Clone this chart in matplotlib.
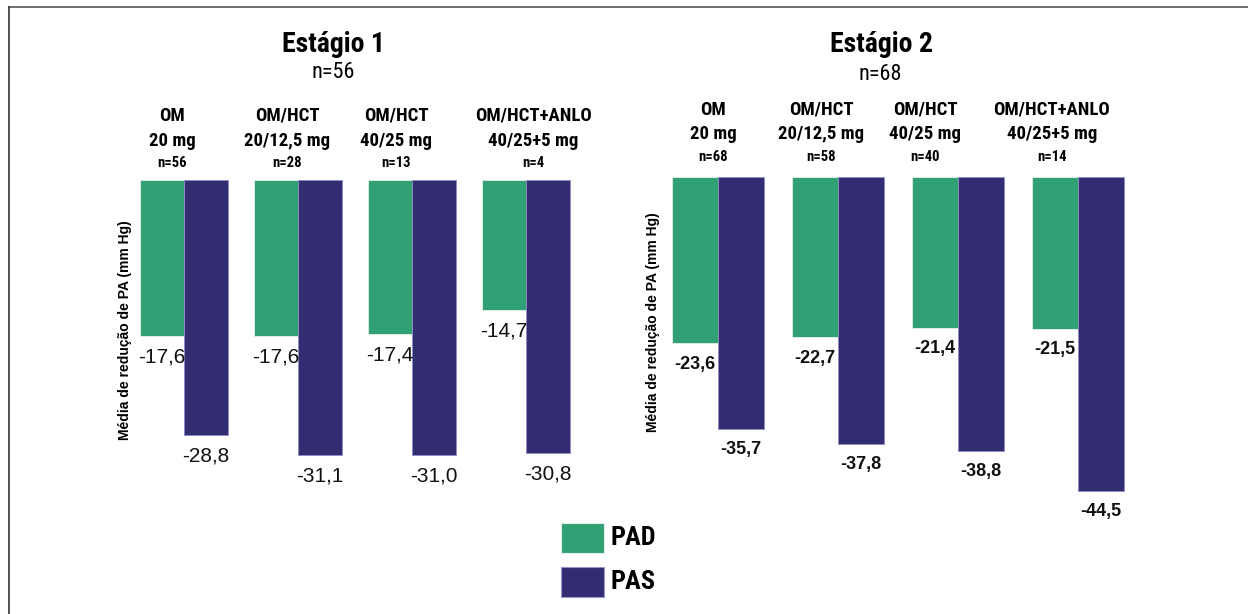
import matplotlib
matplotlib.use("Agg")
import matplotlib.pyplot as plt
from matplotlib import font_manager
from matplotlib.lines import Line2D
from matplotlib.patches import Rectangle
import numpy as np

# ---- data ----
stage_titles = ["Estágio 1", "Estágio 2"]
stage_n = ["n=56", "n=68"]
groups = ["OM", "OM/HCT", "OM/HCT", "OM/HCT+ANLO"]
doses = ["20 mg", "20/12,5 mg", "40/25 mg", "40/25+5 mg"]
n_stage1 = ["n=56", "n=28", "n=13", "n=4"]
n_stage2 = ["n=68", "n=58", "n=40", "n=14"]
pad_stage1 = [-17.6, -17.6, -17.4, -14.7]
pas_stage1 = [-28.8, -31.1, -31.0, -30.8]
pad_stage2 = [-23.6, -22.7, -21.4, -21.5]
pas_stage2 = [-35.7, -37.8, -38.8, -44.5]
series_names = ["PAD", "PAS"]

GREEN = "#31a175"
PURPLE = "#322c70"


def pick(candidates, fallback):
    for name in candidates:
        try:
            font_manager.findfont(font_manager.FontProperties(family=name),
                                  fallback_to_default=False)
            return name
        except Exception:
            continue
    return fallback


NARROW = pick(["Roboto Condensed", "PT Sans Narrow", "Liberation Sans Narrow"],
              "Liberation Sans")
REG = "Liberation Sans"

W, H = 1248, 614
fig = plt.figure(figsize=(W / 100, H / 100), dpi=100)
fig.patch.set_facecolor("white")


def fx(x):
    return x / W


def fy(y):
    return 1 - y / H


def add_axes_px(x0, y0, x1, y1):
    return fig.add_axes([fx(x0), fy(y1), fx(x1) - fx(x0), fy(y0) - fy(y1)])


# frame lines along the top and left edges
fig.add_artist(Line2D([fx(9), 1.0], [fy(7), fy(7)], color="#555555", lw=1.2))
fig.add_artist(Line2D([fx(9), fx(9)], [fy(7), 0.0], color="#333333", lw=1.2))

panels = [
    dict(box=(130, 180, 600, 490), ylim=(-35.0, 0), xlim=(-0.474, 3.649),
         width=0.386, pad=pad_stage1, pas=pas_stage1, ns=n_stage1,
         lbl_weight="normal", lbl_size=15, lbl_off=21,
         title_xy=(333, 45), n_xy=(333, 73), cat_y=(116, 141, 163),
         cat_x=(172, 287, 396, 533), ylab_x=125, ylab_y=330),
    dict(box=(660, 177, 1200, 520), ylim=(-48.65, 0), xlim=(-0.483, 4.017),
         width=0.383, pad=pad_stage2, pas=pas_stage2, ns=n_stage2,
         lbl_weight="bold", lbl_size=13, lbl_off=21,
         title_xy=(881, 45), n_xy=(880, 75), cat_y=(110, 134, 157),
         cat_x=(713, 821, 925, 1052), ylab_x=653, ylab_y=322),
]

for si, p in enumerate(panels):
    x0, y0, x1, y1 = p["box"]
    ax = add_axes_px(x0, y0, x1, y1)
    ax.set_xlim(*p["xlim"])
    ax.set_ylim(*p["ylim"])
    ax.axis("off")
    x = np.arange(len(groups))
    w = p["width"]
    b1 = ax.bar(x - w / 2, p["pad"], w, color=GREEN, edgecolor="#e6efe9",
                linewidth=0.6)
    b2 = ax.bar(x + w / 2, p["pas"], w, color=PURPLE, edgecolor="#8f8bc6",
                linewidth=0.6)
    for bars, vals in ((b1, p["pad"]), (b2, p["pas"])):
        for rect, v in zip(bars, vals):
            ax.annotate(f"{v:.1f}".replace(".", ","),
                        xy=(rect.get_x() + rect.get_width() / 2, v),
                        xytext=(0, -p["lbl_off"] * 0.72), textcoords="offset points",
                        ha="center", va="center", fontsize=p["lbl_size"],
                        fontweight=p["lbl_weight"], family=REG, color="#111111")
    # category headers above each group
    for i in range(len(groups)):
        cx = fx(p["cat_x"][i])
        for txt, ypx, size in ((groups[i], p["cat_y"][0], 13.5),
                               (doses[i], p["cat_y"][1], 13.5),
                               (p["ns"][i], p["cat_y"][2], 10.5)):
            fig.text(cx, fy(ypx), txt, ha="center", va="center", fontsize=size,
                     fontweight="bold", family=NARROW)
    fig.text(fx(p["title_xy"][0]), fy(p["title_xy"][1]), stage_titles[si],
             ha="center", va="center", fontsize=20, fontweight="bold",
             family=NARROW)
    fig.text(fx(p["n_xy"][0]), fy(p["n_xy"][1]), stage_n[si],
             ha="center", va="center", fontsize=16, family=NARROW)
    fig.text(fx(p["ylab_x"]), fy(p["ylab_y"]), "Média de redução de PA (mm Hg)",
             rotation=90, ha="center", va="center", fontsize=10,
             fontweight="bold", family=REG)

# legend
for name, color, edge, ytop in ((series_names[0], GREEN, "#dfeee6", 523),
                                (series_names[1], PURPLE, "#9a96d0", 567)):
    fig.add_artist(Rectangle((fx(561), fy(ytop + 30)), fx(43), 30 / H,
                             facecolor=color, edgecolor=edge, lw=0.8,
                             transform=fig.transFigure))
    fig.text(fx(611), fy(ytop + 15), name, ha="left", va="center",
             fontsize=19, fontweight="bold", family=NARROW)

fig.savefig("out.png", dpi=100, facecolor="white")
